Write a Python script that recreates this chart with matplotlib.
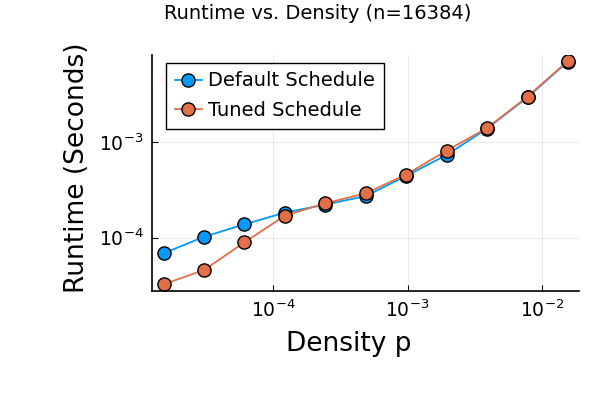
import numpy as np
import matplotlib.pyplot as plt
from matplotlib.ticker import LogLocator, NullLocator

# density p = 2^-16 ... 2^-6
density = [2.0 ** -k for k in range(16, 5, -1)]
default_runtime = [6.86e-5, 1.02e-4, 1.38e-4, 1.83e-4, 2.22e-4, 2.73e-4,
                   4.44e-4, 7.36e-4, 1.39e-3, 2.96e-3, 7.02e-3]
tuned_runtime = [3.24e-5, 4.58e-5, 8.93e-5, 1.70e-4, 2.29e-4, 2.92e-4,
                 4.58e-4, 8.18e-4, 1.41e-3, 3.01e-3, 7.13e-3]

blue = '#009AFA'
orange = '#E36F47'

fig = plt.figure(figsize=(6, 4), dpi=100)
ax = fig.add_axes([0.2533, 0.2733, 0.7117, 0.5893])

ax.plot(density, default_runtime, '-o', color=blue, lw=1.3, ms=9.5,
        mec='black', mew=1.0, label='Default Schedule')
ax.plot(density, tuned_runtime, '-o', color=orange, lw=1.3, ms=9.5,
        mec='black', mew=1.0, label='Tuned Schedule')

ax.set_xscale('log')
ax.set_yscale('log')
ax.set_xlim(10 ** -4.903, 10 ** -1.724)
ax.set_ylim(10 ** -4.556, 10 ** -2.085)
ax.xaxis.set_major_locator(LogLocator(base=10, numticks=10))
ax.yaxis.set_major_locator(LogLocator(base=10, numticks=10))
ax.xaxis.set_minor_locator(NullLocator())
ax.yaxis.set_minor_locator(NullLocator())

ax.spines['top'].set_visible(False)
ax.spines['right'].set_visible(False)
for s in ['left', 'bottom']:
    ax.spines[s].set_linewidth(1.2)
ax.tick_params(direction='in', length=4, width=0.8, labelsize=13.5, pad=6)
ax.grid(True, color='black', alpha=0.08, lw=0.8)

ax.set_xlabel('Density p', fontsize=19)
ax.set_ylabel('Runtime (Seconds)', fontsize=19)
ax.xaxis.set_label_coords(0.461, -0.172)
ax.yaxis.set_label_coords(-0.145, 0.52)

fig.text(0.53, 0.967, 'Runtime vs. Density (n=16384)', fontsize=14,
         ha='center', va='center')

leg = ax.legend(loc='upper left', bbox_to_anchor=(0.033, 0.967), fontsize=14,
                frameon=True, fancybox=False, handlelength=1.4,
                handletextpad=0.3, borderpad=0.45, labelspacing=0.55,
                borderaxespad=0)
leg.get_frame().set_edgecolor('black')
leg.get_frame().set_linewidth(1.0)
leg.get_frame().set_alpha(1)

fig.savefig('out.png', dpi=100)
